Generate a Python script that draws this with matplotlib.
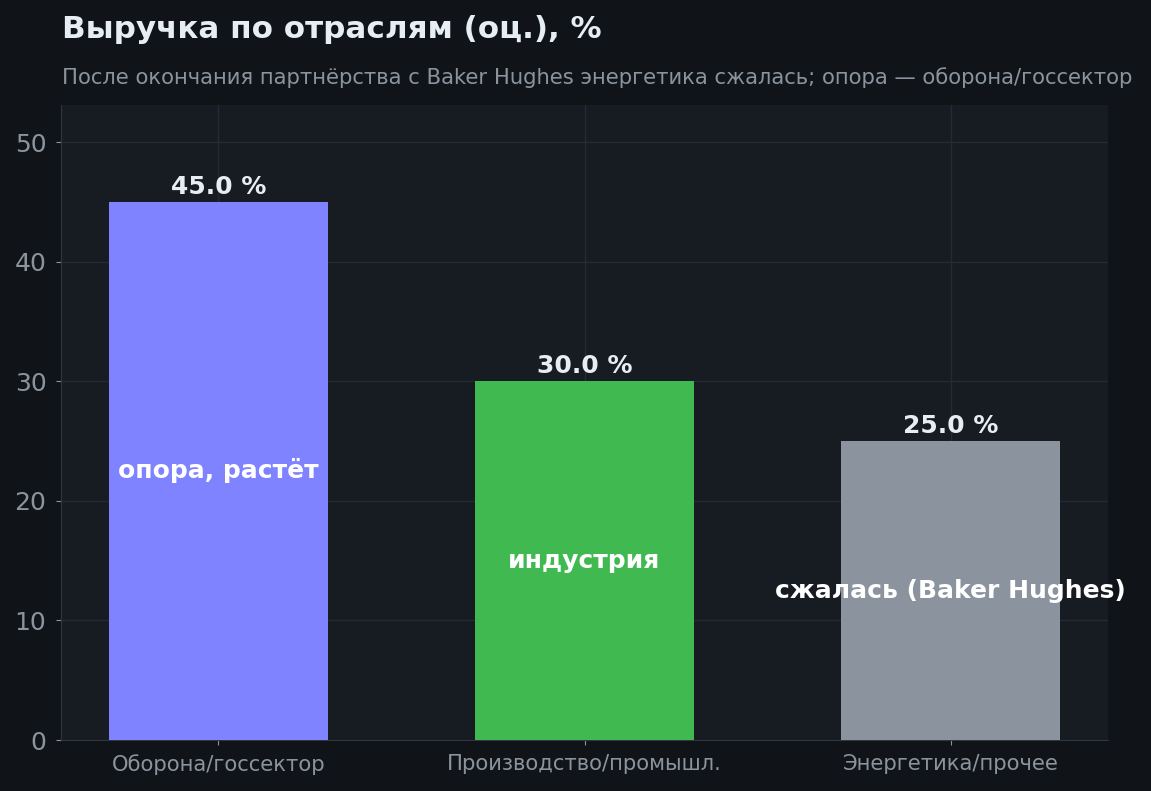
import matplotlib
matplotlib.use("Agg")
import matplotlib.pyplot as plt

# данные
categories = ["Оборона/госсектор", "Производство/промышл.", "Энергетика/прочее"]
values = [45.0, 30.0, 25.0]
inner_labels = ["опора, растёт", "индустрия", "сжалась (Baker Hughes)"]
bar_colors = ["#7f83ff", "#3fb950", "#8b939e"]

FIG_BG = "#101418"
AX_BG = "#171b22"
GRID = "#252a33"
MUTED = "#8b949e"
TEXT = "#e6edf3"

plt.rcParams["font.family"] = ["DejaVu Sans"]

fig = plt.figure(figsize=(11.51, 7.91), dpi=100, facecolor=FIG_BG)
ax = fig.add_axes([61 / 1151, 1 - 740 / 791, (1108 - 61) / 1151, (740 - 105) / 791])
ax.set_facecolor(AX_BG)

x = list(range(len(categories)))
bars = ax.bar(x, values, width=0.6, color=bar_colors, zorder=3)

ax.set_ylim(0, max(values) * 1.18)
ax.set_xticks(x)
ax.set_xticklabels(categories, fontsize=15.2, color=MUTED)
ax.set_yticks(range(0, 51, 10))
ax.tick_params(axis="y", labelsize=18, colors=MUTED, pad=7)
ax.tick_params(axis="x", colors=MUTED, pad=6.5)
ax.grid(True, color=GRID, linewidth=1, zorder=0)

for side in ["top", "right"]:
    ax.spines[side].set_visible(False)
for side in ["left", "bottom"]:
    ax.spines[side].set_color("#30363d")

# подписи значений и внутренние подписи
for xi, v, lab in zip(x, values, inner_labels):
    ax.annotate(f"{v:.1f} %", (xi, v), xytext=(0, 2), textcoords="offset points",
                ha="center", va="bottom", fontsize=18, fontweight="bold", color=TEXT, zorder=4)
    ax.text(xi, v / 2, lab, ha="center", va="center", fontsize=18,
            fontweight="bold", color="white", zorder=4)

fig.text(62 / 1151, 1 - 29 / 791, "Выручка по отраслям (оц.), %", fontsize=22.3,
         fontweight="bold", color=TEXT, ha="left", va="center")
fig.text(62 / 1151, 1 - 78 / 791,
         "После окончания партнёрства с Baker Hughes энергетика сжалась; опора — оборона/госсектор",
         fontsize=15.2, color=MUTED, ha="left", va="center")

fig.savefig("out.png", dpi=100, facecolor=FIG_BG)
